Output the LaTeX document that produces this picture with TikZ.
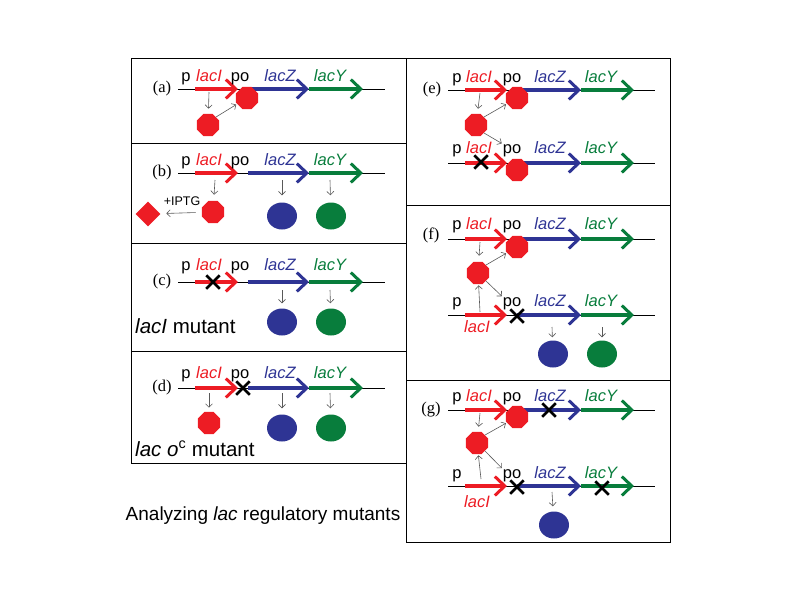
\documentclass[tikz,border=0pt]{standalone}
\usepackage{fontspec}
\setmainfont{Liberation Serif}
\setsansfont{Liberation Sans}
\usetikzlibrary{arrows.meta,shapes.geometric,shapes.misc}
\definecolor{lacred}{RGB}{237,28,36}
\definecolor{lacblue}{RGB}{46,52,148}
\definecolor{lacgreen}{RGB}{8,125,60}

\begin{document}
\begin{tikzpicture}[x=1pt, y=-1pt,
    gene/.style={line width=3.5pt, -{Straight Barb[length=10pt, width=19pt, line width=3pt]}},
    dna/.style={line width=0.6pt},
    hint/.style={black!65, line width=0.6pt, -{Straight Barb[length=3.5pt, width=7pt]}},
    lbl/.style={font=\sffamily\fontsize{16.5}{16.5}\selectfont, inner sep=0pt, anchor=base},
    tag/.style={font=\fontsize{16.5}{16.5}\selectfont, inner sep=0pt},
    note/.style={font=\sffamily\fontsize{20.5}{20.5}\selectfont, inner sep=0pt, anchor=base west},
    repressor/.style={regular polygon, regular polygon sides=8, fill=lacred, minimum size=24pt, inner sep=0pt},
    enzyme/.style={ellipse, minimum width=30pt, minimum height=27pt, inner sep=0pt},
    mut/.style={cross out, draw=black, line width=2.5pt, minimum size=11pt, inner sep=0pt}]
    \useasboundingbox (0,0) rectangle (800,600);

    % Panel frames
    \draw[line width=0.8pt] (131,58) rectangle (406,463);
    \draw[line width=0.8pt] (131,143) -- (406,143) (131,243) -- (406,243) (131,351) -- (406,351);
    \draw[line width=0.8pt] (406,58) rectangle (670,542);
    \draw[line width=0.8pt] (406,205) -- (670,205) (406,380) -- (670,380);

    % Panel tags
    \node[tag] (ta) at (162,89) {(a)};
    \node[tag] (tb) at (162,173) {(b)};
    \node[tag] (tc) at (162,282) {(c)};
    \node[tag] (td) at (162,388) {(d)};
    \node[tag] (te) at (432,90) {(e)};
    \node[tag] (tf) at (431,235) {(f)};
    \node[tag] (tg) at (431,410) {(g)};

    % Left column operons
    \foreach \r/\y in {a/89, b/173, c/282, d/388} {
        \draw[dna] (178,\y) -- (385,\y);
        \draw[gene, lacred] (195,\y) -- (238,\y);
        \draw[gene, lacblue] (248,\y) -- (309,\y);
        \draw[gene, lacgreen] (309,\y) -- (363,\y);
    }
    \foreach \r/\b in {a/81, b/165, c/270, d/378} {
        \node[lbl] (p\r) at (186,\b) {p};
        \node[lbl, text=lacred] (I\r) at (209,\b) {\itshape lacI};
        \node[lbl] (po\r) at (240,\b) {po};
        \node[lbl, text=lacblue] (Z\r) at (280,\b) {\itshape lacZ};
        \node[lbl, text=lacgreen] (Y\r) at (330,\b) {\itshape lacY};
    }

    % Right column operons
    \foreach \r/\y in {e1/90, e2/163, f1/239, f2/315, g1/410, g2/486} {
        \draw[dna] (448,\y) -- (655,\y);
        \draw[gene, lacred] (465,\y) -- (507,\y);
        \draw[gene, lacblue] (517,\y) -- (581,\y);
        \draw[gene, lacgreen] (581,\y) -- (634,\y);
    }
    \foreach \r/\b in {e1/82, e2/153, f1/229, g1/401} {
        \node[lbl] (p\r) at (457,\b) {p};
        \node[lbl, text=lacred] (I\r) at (479,\b) {\itshape lacI};
        \node[lbl] (po\r) at (512,\b) {po};
        \node[lbl, text=lacblue] (Z\r) at (550,\b) {\itshape lacZ};
        \node[lbl, text=lacgreen] (Y\r) at (601,\b) {\itshape lacY};
    }
    \foreach \r/\b/\c in {f2/306/332, g2/478/507} {
        \node[lbl] (p\r) at (457,\b) {p};
        \node[lbl, text=lacred] (I\r) at (477,\c) {\itshape lacI};
        \node[lbl] (po\r) at (512,\b) {po};
        \node[lbl, text=lacblue] (Z\r) at (550,\b) {\itshape lacZ};
        \node[lbl, text=lacgreen] (Y\r) at (601,\b) {\itshape lacY};
    }

    % (a) wild type, no inducer
    \node[repressor] (oa) at (247,98) {};
    \node[repressor] (ra) at (208,125) {};
    \coordinate (ga) at (209,92);
    \draw[hint, shorten >=5pt] (ga) -- (ra);
    \draw[hint, shorten >=1pt] (ra.north east) -- (oa);

    % (b) wild type + IPTG
    \node[repressor] (rb) at (213,212) {};
    \node[diamond, fill=lacred, minimum width=25pt, minimum height=25pt, inner sep=0pt] (ib) at (148,214) {};
    \node[enzyme, fill=lacblue] (zb) at (282,216) {};
    \node[enzyme, fill=lacgreen] (yb) at (331,216) {};
    \node[font=\sffamily\fontsize{12.5}{12.5}\selectfont, inner sep=0pt] (iptg) at (182,201) {+IPTG};
    \coordinate (gb1) at (215,180);
    \coordinate (gb2) at (282,180);
    \coordinate (gb3) at (330,180);
    \draw[hint, shorten >=6pt] (gb1) -- (rb);
    \draw[hint, shorten >=7pt] (gb2) -- (zb);
    \draw[hint, shorten >=7pt] (gb3) -- (yb);
    \draw[hint, shorten <=6pt, shorten >=6pt] (rb) -- (ib);

    % (c) lacI mutant
    \node[mut] (xc) at (213,282) {};
    \node[enzyme, fill=lacblue] (zc) at (282,322) {};
    \node[enzyme, fill=lacgreen] (yc) at (331,322) {};
    \coordinate (gc2) at (282,290);
    \coordinate (gc3) at (330,290);
    \draw[hint, shorten >=5pt] (gc2) -- (zc);
    \draw[hint, shorten >=5pt] (gc3) -- (yc);
    \node[note] (mc) at (135,333) {\itshape lacI\upshape\ mutant};

    % (d) operator constitutive mutant
    \node[mut] (xd) at (243,388) {};
    \node[repressor] (rd) at (209,423) {};
    \node[enzyme, fill=lacblue] (zd) at (282,428) {};
    \node[enzyme, fill=lacgreen] (yd) at (331,428) {};
    \coordinate (gd1) at (209,393);
    \coordinate (gd2) at (282,393);
    \coordinate (gd3) at (330,393);
    \draw[hint, shorten >=4pt] (gd1) -- (rd);
    \draw[hint, shorten >=6pt] (gd2) -- (zd);
    \draw[hint, shorten >=6pt] (gd3) -- (yd);
    \node[note] (md) at (135,456) {\itshape lac o\upshape\textsuperscript{c} mutant};

    % (e) merodiploid, lacI- in trans
    \node[repressor] (oe1) at (517,98) {};
    \node[repressor] (oe2) at (517,170) {};
    \node[repressor] (re) at (476,125) {};
    \node[mut] (xe) at (481,162) {};
    \coordinate (ge) at (480,93);
    \draw[hint, shorten >=5pt] (ge) -- (re);
    \draw[hint, shorten >=1pt] (re.north east) -- (oe1);
    \draw[hint, shorten >=1pt] (re.south east) -- (poe2.north west);

    % (f) merodiploid, o^c in cis
    \node[repressor] (of1) at (517,247) {};
    \node[repressor] (rf) at (478,273) {};
    \node[mut] (xf) at (517,316) {};
    \node[enzyme, fill=lacblue] (zf) at (553,354) {};
    \node[enzyme, fill=lacgreen] (yf) at (602,354) {};
    \coordinate (gf1) at (480,242);
    \coordinate (gf2) at (480,312);
    \coordinate (gf3) at (552,327);
    \coordinate (gf4) at (602,327);
    \draw[hint, shorten >=6pt] (gf1) -- (rf);
    \draw[hint, shorten >=1pt] (gf2) -- (rf);
    \draw[hint, shorten >=1pt] (rf.north east) -- (of1);
    \draw[hint, shorten >=1pt] (rf.south east) -- (pof2.north west);
    \draw[hint, shorten >=3pt] (gf3) -- (zf);
    \draw[hint, shorten >=3pt] (gf4) -- (yf);

    % (g) merodiploid, o^c with lacY- in cis
    \node[repressor] (og1) at (517,417) {};
    \node[mut] (xg1) at (549,410) {};
    \node[repressor] (rg) at (477,443) {};
    \node[mut] (xg2) at (517,487) {};
    \node[mut] (xg3) at (602,488) {};
    \node[enzyme, fill=lacblue] (zg) at (554,525) {};
    \coordinate (gg1) at (480,413);
    \coordinate (gg2) at (481,479);
    \coordinate (gg3) at (552,492);
    \draw[hint, shorten >=5pt] (gg1) -- (rg);
    \draw[hint, shorten >=1pt] (gg2) -- (rg);
    \draw[hint, shorten >=1pt] (rg.north east) -- (og1);
    \draw[hint, shorten >=1pt] (rg.south east) -- (pog2.north west);
    \draw[hint, shorten >=5pt] (gg3) -- (zg);

    % Caption
    \node[font=\sffamily\fontsize{19}{19}\selectfont, inner sep=0pt] (cap) at (263,516) {Analyzing \itshape lac\upshape\ regulatory mutants};
\end{tikzpicture}
\end{document}
